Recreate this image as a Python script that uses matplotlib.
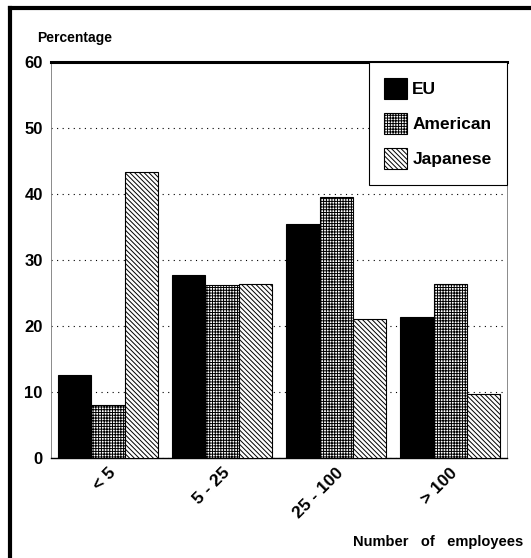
import matplotlib
matplotlib.use('Agg')
import numpy as np
import matplotlib.pyplot as plt
from matplotlib.lines import Line2D

plt.rcParams['font.family'] = ['Liberation Sans', 'DejaVu Sans']
plt.rcParams['hatch.linewidth'] = 0.7

categories = ["< 5", "5 - 25", "25 - 100", "> 100"]
eu = [12.6, 27.7, 35.4, 21.3]
american = [8.0, 26.2, 39.6, 26.4]
japanese = [43.3, 26.4, 21.0, 9.7]

fig = plt.figure(figsize=(5.31, 5.58), dpi=100)
ax = fig.add_axes([0.096, 0.179, 0.859, 0.710])

x = np.arange(len(categories))
w = 0.29
ax.bar(x - w, eu, w, color='black', edgecolor='black', linewidth=0.8, label='EU', zorder=3)
ax.bar(x, american, w, color='white', edgecolor='black', hatch='++++++', linewidth=0.8,
       label='American', zorder=3)
ax.bar(x + w, japanese, w, color='white', edgecolor='black', hatch='\\\\\\\\\\\\\\', linewidth=0.8,
       label='Japanese', zorder=3)

ax.set_xlim(-0.5, 3.5)
ax.set_ylim(0, 60)
ax.set_yticks([0, 10, 20, 30, 40, 50, 60])
ax.yaxis.grid(True, linestyle=(0, (1, 4)), color='black', linewidth=0.8)
ax.set_axisbelow(True)
ax.tick_params(axis='y', length=0, labelsize=12, pad=6)
ax.tick_params(axis='x', length=0, labelsize=12.5, pad=5)
for t in ax.get_yticklabels():
    t.set_fontweight('bold')
ax.set_xticks(x)
ax.set_xticklabels(categories, rotation=45, ha='right', va='top', fontweight='bold',
                   rotation_mode='anchor')

ax.spines['top'].set_linewidth(2.2)
ax.spines['left'].set_linewidth(0.6)
ax.spines['left'].set_color('#777777')
ax.spines['right'].set_linewidth(0.6)
ax.spines['right'].set_color('#777777')
ax.spines['bottom'].set_linewidth(1.0)

leg = ax.legend(loc='upper right', bbox_to_anchor=(1.0, 1.0), borderaxespad=0,
                fancybox=False, framealpha=1, edgecolor='black', handlelength=1.3,
                handleheight=1.5, handletextpad=0.3, labelspacing=0.8, borderpad=0.9,
                prop={'weight': 'bold', 'size': 12.5})
leg.get_frame().set_linewidth(0.8)

fig.text(0.07, 0.925, "Percentage", fontsize=10, fontweight='bold')
fig.text(0.985, 0.022, "Number   of   employees", fontsize=10.5, fontweight='bold', ha='right')

fig.add_artist(Line2D([10 / 531, 1.0], [1 - 8 / 558, 1 - 8 / 558], color='black', linewidth=3))
fig.add_artist(Line2D([10 / 531, 10 / 531], [0.0, 1 - 8 / 558], color='black', linewidth=3))

plt.savefig("out.png", dpi=100)
